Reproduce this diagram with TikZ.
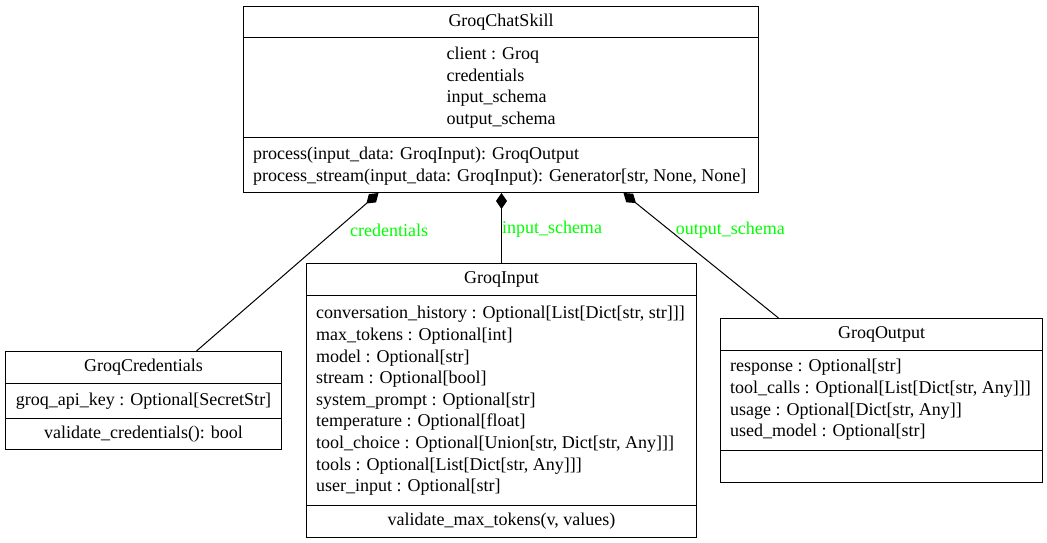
\documentclass[tikz,border=0pt]{standalone}
\usepackage{fontspec}
\setmainfont{Liberation Serif}
\usetikzlibrary{arrows.meta,positioning,calc}
\definecolor{rolegreen}{RGB}{0,255,0}

\begin{document}
\begin{tikzpicture}[x=1pt, y=-1pt,
  classbox/.style={draw, line width=1pt, anchor=north west, inner sep=0pt},
  umltext/.style={font=\fontsize{18}{21.6}\selectfont, inner sep=0pt, align=left},
  rolelabel/.style={font=\fontsize{18}{21.6}\selectfont, text=rolegreen,
                    inner sep=0pt, anchor=west},
  comp/.style={-{Diamond[length=16pt, width=11pt]}, line width=1pt},
  sep/.style={line width=1pt}
]
\useasboundingbox (0,0) rectangle (1047,543);

%% Class boxes
\node[classbox, minimum width=515pt, minimum height=186pt] (skill)  at (243,6)   {};
\node[classbox, minimum width=390pt, minimum height=274pt] (input)  at (306,263) {};
\node[classbox, minimum width=276pt, minimum height=98pt]  (cred)   at (5,351)   {};
\node[classbox, minimum width=322pt, minimum height=164pt] (output) at (720,318) {};

%% Compartment lines
\draw[sep] ([yshift=-32pt]skill.north west)  -- ([yshift=-32pt]skill.north east);
\draw[sep] ([yshift=-131pt]skill.north west) -- ([yshift=-131pt]skill.north east);
\draw[sep] ([yshift=-32pt]input.north west)  -- ([yshift=-32pt]input.north east);
\draw[sep] ([yshift=-242pt]input.north west) -- ([yshift=-242pt]input.north east);
\draw[sep] ([yshift=-32pt]cred.north west)   -- ([yshift=-32pt]cred.north east);
\draw[sep] ([yshift=-67pt]cred.north west)   -- ([yshift=-67pt]cred.north east);
\draw[sep] ([yshift=-32pt]output.north west)  -- ([yshift=-32pt]output.north east);
\draw[sep] ([yshift=-132pt]output.north west) -- ([yshift=-132pt]output.north east);

%% GroqChatSkill
\node[umltext] (skilltitle) at ([yshift=-16pt]skill.north) {GroqChatSkill};
\node[umltext] (skillattr)  at ([yshift=-81.5pt]skill.north)
  {client : Groq\\credentials\\input\_schema\\output\_schema};
\node[umltext, anchor=west] (skillops) at ([xshift=10pt, yshift=-160pt]skill.north west)
  {process(input\_data: GroqInput): GroqOutput\\
   process\_stream(input\_data: GroqInput): Generator[str, None, None]};

%% GroqInput
\node[umltext] (inputtitle) at ([yshift=-16pt]input.north) {GroqInput};
\node[umltext, anchor=west] (inputattr) at ([xshift=10pt, yshift=-138pt]input.north west)
  {conversation\_history : Optional[List[Dict[str, str]]]\\
   max\_tokens : Optional[int]\\
   model : Optional[str]\\
   stream : Optional[bool]\\
   system\_prompt : Optional[str]\\
   temperature : Optional[float]\\
   tool\_choice : Optional[Union[str, Dict[str, Any]]]\\
   tools : Optional[List[Dict[str, Any]]]\\
   user\_input : Optional[str]};
\node[umltext] (inputops) at ([yshift=-258pt]input.north) {validate\_max\_tokens(v, values)};

%% GroqCredentials
\node[umltext] (credtitle) at ([yshift=-16pt]cred.north) {GroqCredentials};
\node[umltext] (credattr)  at ([yshift=-50pt]cred.north) {groq\_api\_key : Optional[SecretStr]};
\node[umltext] (credops)   at ([yshift=-83pt]cred.north) {validate\_credentials(): bool};

%% GroqOutput
\node[umltext] (outputtitle) at ([yshift=-16pt]output.north) {GroqOutput};
\node[umltext, anchor=west] (outputattr) at ([xshift=10pt, yshift=-82pt]output.north west)
  {response : Optional[str]\\
   tool\_calls : Optional[List[Dict[str, Any]]]\\
   usage : Optional[Dict[str, Any]]\\
   used\_model : Optional[str]};

%% Composition edges
\draw[comp] ([xshift=53pt]cred.north) -- ([xshift=-122.5pt]skill.south)
  node[rolelabel, pos=0.77, xshift=13pt, yshift=-1pt] {credentials};
\draw[comp] (input.north) -- (input.north |- skill.south)
  node[rolelabel, midway, yshift=-1pt] {input\_schema};
\draw[comp] ([xshift=-103pt]output.north) -- ([xshift=122.5pt]skill.south)
  node[rolelabel, pos=0.71, xshift=7pt, yshift=-1pt] {output\_schema};

\end{tikzpicture}
\end{document}
